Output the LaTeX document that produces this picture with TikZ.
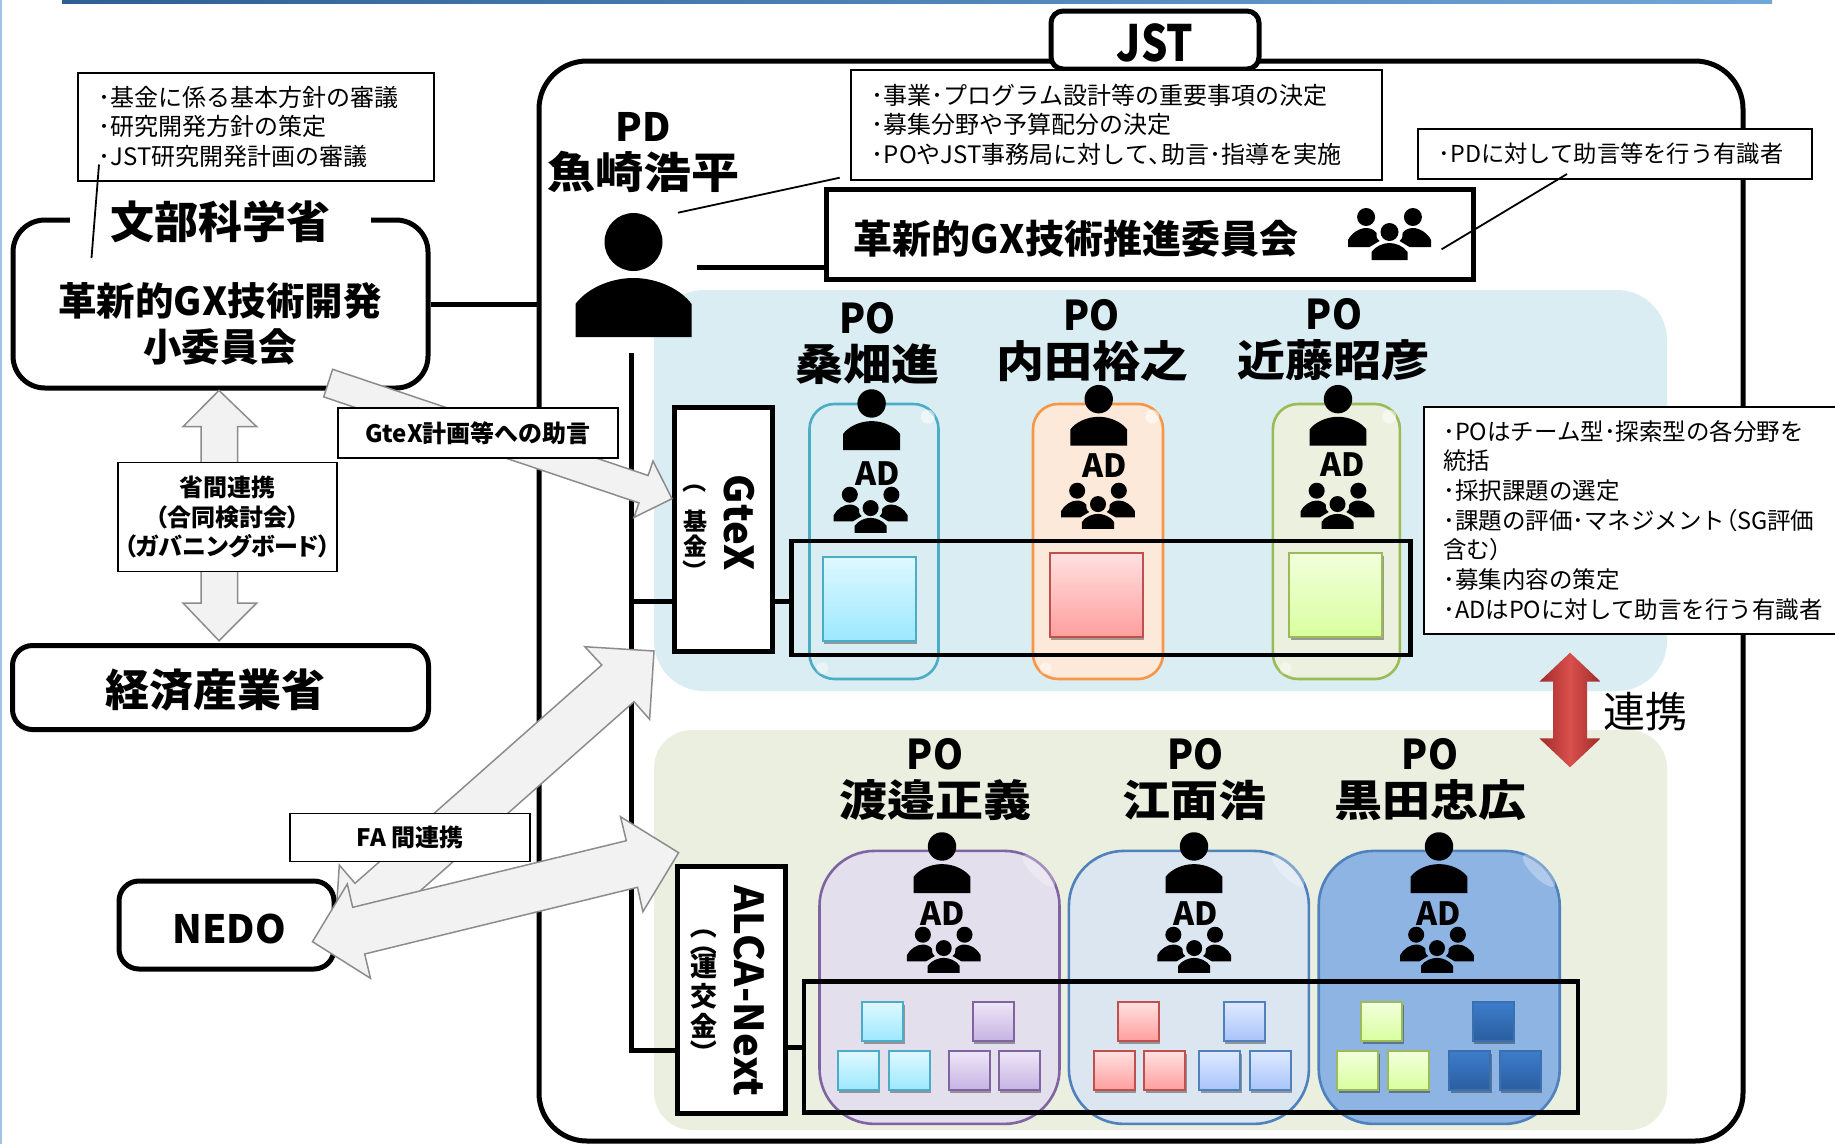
\documentclass[tikz,border=0pt]{standalone}
\usepackage{graphicx}
\usepackage{fontspec}
\setmainfont{Noto Sans CJK JP}
\newfontfamily\paltfont[RawFeature={+palt}]{Noto Sans CJK JP}
\usetikzlibrary{shadows}
\definecolor{panelblue}{HTML}{DAEDF3}
\definecolor{panelbeige}{HTML}{EAEFDF}
\definecolor{arrowgray}{HTML}{F2F2F2}
\definecolor{arrowline}{HTML}{8C8C8C}
\definecolor{redmid}{HTML}{D9504C}
\definecolor{reddark}{HTML}{A02B2B}
\definecolor{stripedark}{HTML}{2F5F93}
\definecolor{stripelight}{HTML}{6FA8D8}
\definecolor{edgeblue}{HTML}{9DC3E6}
\definecolor{cyanTop}{HTML}{DFF8FF}
\definecolor{cyanBot}{HTML}{9CE8FF}
\definecolor{cyanLine}{HTML}{4BACC6}
\definecolor{redTop}{HTML}{FFE0E0}
\definecolor{redBot}{HTML}{FF9E9E}
\definecolor{redLine}{HTML}{C0504D}
\definecolor{limeTop}{HTML}{F2FFDD}
\definecolor{limeBot}{HTML}{D9FF9E}
\definecolor{limeLine}{HTML}{9BBB59}
\definecolor{violetTop}{HTML}{EDE6F7}
\definecolor{violetBot}{HTML}{C6B3E3}
\definecolor{violetLine}{HTML}{8064A2}
\definecolor{skyTop}{HTML}{DFE9FF}
\definecolor{skyBot}{HTML}{A8C4FA}
\definecolor{skyLine}{HTML}{4F81BD}
\definecolor{navyTop}{HTML}{3D7CCB}
\definecolor{navyBot}{HTML}{2A5E9F}
\definecolor{navyLine}{HTML}{3A6FB0}
\definecolor{capblue}{HTML}{DAEDF3}
\definecolor{caporange}{HTML}{FDE9D9}
\definecolor{capgreen}{HTML}{EBF1DE}
\definecolor{capviolet}{HTML}{E4DFEC}
\definecolor{capsky}{HTML}{DCE6F1}
\definecolor{capnavy}{HTML}{8DB4E2}
\definecolor{caporangeline}{HTML}{F79646}
\newcommand{\vparen}[1]{\rotatebox[origin=c]{-90}{#1}}
\tikzset{
    rulebox/.style={draw, line width=5pt, fill=white, inner sep=0pt},
    roundbox/.style={rulebox, rounded corners=#1},
    notebox/.style={draw, line width=1.6pt, fill=white, inner sep=0pt, align=left,
        anchor=north west, font=\fontsize{24}{29.8}\selectfont},
    tagbox/.style={draw, line width=1.6pt, fill=white, inner sep=0pt, align=center,
        font=\bfseries\fontsize{24}{29.5}\selectfont},
    blockarrow/.style={draw=arrowline, fill=arrowgray, line width=1.5pt, line join=miter},
    wire/.style={line width=5pt},
    thinwire/.style={line width=1.8pt},
    titletext/.style={font=\bfseries\fontsize{48}{50}\selectfont, yscale=.9, inner sep=0pt, align=center},
    potext/.style={font=\bfseries\fontsize{41}{41}\selectfont, xscale=.93, inner sep=0pt},
    adtext/.style={font=\bfseries\fontsize{32}{32}\selectfont, inner sep=0pt},
    capsule/.style={line width=2.6pt, draw=#1Line, inner sep=0pt},
    cell/.style={draw=#1Line, line width=2pt, top color=#1Top, bottom color=#1Bot, inner sep=0pt,
        drop shadow={shadow xshift=1.5pt, shadow yshift=-3pt, opacity=.35, fill=black}},
    bigcell/.style={cell=#1, minimum width=93pt, minimum height=84pt},
    minicell/.style={cell=#1, minimum width=41pt, minimum height=39pt},
    rowframe/.style={draw, line width=4.6pt, inner sep=0pt, line join=miter},
    personicon/.pic={
        \fill (0,-95) circle [radius=29];
        \fill (-58,0) -- (-58,-33) .. controls (-48,-47) and (-25,-59) .. (0,-59)
            .. controls (25,-59) and (48,-47) .. (58,-33) -- (58,0) -- cycle;
    },
    groupicon/.pic={
        \fill (-23.4,9) circle [radius=9];
        \fill (23.4,9) circle [radius=9];
        \fill (0,24) circle [radius=9];
        \fill (-41.5,39) -- (-41.5,32) .. controls (-38,25) and (-30,20) .. (-23.4,20)
            .. controls (-19,20) and (-15,22) .. (-13,25) .. controls (-13,30) .. (-10,33) -- (-20,39) -- cycle;
        \fill (41.5,39) -- (41.5,32) .. controls (38,25) and (30,20) .. (23.4,20)
            .. controls (19,20) and (15,22) .. (13,25) .. controls (13,30) .. (10,33) -- (20,39) -- cycle;
        \fill (-18,52) -- (-18,44) .. controls (-14,38) and (-6,35) .. (0,35)
            .. controls (6,35) and (14,38) .. (18,44) -- (18,52) -- cycle;
    },
}
\begin{document}
\begin{tikzpicture}[x=1pt, y=-1pt]
    \useasboundingbox (0,0) rectangle (1835,1144);
    \fill[left color=stripedark, right color=stripelight] (62,0) rectangle (1772,3);
    \fill[edgeblue] (0,0) rectangle (1.5,1144);

    \node[roundbox=48pt, minimum width=1204pt, minimum height=1080pt] (jst) at (1141,601) {};
    \node[roundbox=12pt, minimum width=208pt, minimum height=58pt] (jsttag) at (1155,40) {};
    \node[inner sep=0pt, font=\bfseries\fontsize{50}{50}\selectfont, xscale=.83] (jstname) at (1155,43) {JST};

    \fill[panelblue, rounded corners=50pt] (654,290) rectangle (1667,691);
    \fill[panelbeige, rounded corners=38pt] (654,730) rectangle (1667,1130);

    \node[roundbox=32pt, minimum width=415pt, minimum height=168pt] (mext) at (220.5,304) {};
    \node[fill=white, minimum width=301pt, minimum height=46pt, inner sep=0pt, font=\bfseries\fontsize{44}{44}\selectfont] (mextname) at (220,222) {文部科学省};
    \node[inner sep=0pt, align=center, font=\bfseries\fontsize{38.5}{46}\selectfont] (mextsub) at (220,324) {革新的GX技術開発\\小委員会};
    \node[roundbox=20pt, minimum width=416pt, minimum height=84pt] (meti) at (220.5,687.5) {};
    \node[inner sep=0pt, font=\bfseries\fontsize{44}{44}\selectfont] (metiname) at (215.7,690) {経済産業省};

    \draw[wire] (mext) -- (mext -| jst.west);

    \node[notebox, minimum width=356pt, minimum height=108pt, text width=314pt, inner xsep=21pt] (mextnote) at (77,72)
        {･基金に係る基本方針の審議\\･研究開発方針の策定\\･JST研究開発計画の審議};
    \coordinate (mextnotefoot) at (99,164.5);
    \coordinate (mextfoot) at (91.5,258);
    \draw[thinwire] (mextnotefoot) -- (mextfoot);

    \node[notebox, minimum width=531pt, minimum height=110pt, text width=489pt, inner xsep=21pt] (pdnote) at (850,69)
        {･事業･プログラム設計等の重要事項の決定\\･募集分野や予算配分の決定\\･POやJST事務局に対して{\paltfont 、}助言･指導を実施};
    \node[notebox, minimum width=394pt, minimum height=50pt, text width=352pt, inner xsep=21pt, font=\fontsize{23.3}{29.5}\selectfont] (boardnote) at (1417,128)
        {･PDに対して助言等を行う有識者};

    \node[rulebox, minimum width=647pt, minimum height=90pt] (board) at (1149.5,234) {};
    \node[inner sep=0pt, font=\bfseries\fontsize{39}{39}\selectfont] (boardname) at (1076,239) {革新的GX技術推進委員会};
    \pic at (1389.5,208) {groupicon};
    \coordinate (pdlink) at (678,212.7);
    \coordinate (pdnotelink) at (839.7,177.7);
    \draw[thinwire] (pdlink) -- (pdnotelink);
    \coordinate (boardlink) at (1441.6,249.3);
    \coordinate (boardnotelink) at (1567,174);
    \draw[thinwire] (boardlink) -- (boardnotelink);

    \node[inner sep=0pt, font=\bfseries\fontsize{39}{39}\selectfont] (pdrole) at (643,127) {PD};
    \node[titletext] (pdname) at (643,172) {魚崎浩平};
    \pic at (633.5,337) {personicon};

    \coordinate (pdneck) at (697,267);
    \draw[wire] (pdneck) -- (pdneck -| board.west);
    \coordinate (trunktop) at (631,353);
    \coordinate (trunkend) at (631,1050);
    \coordinate (gtexjoin) at (631,601.7);

    \node[capsule=cyan, fill=capblue, rounded corners=25pt, minimum width=129pt, minimum height=275pt] (capA) at (874,541.5) {};
    \node[line width=2.6pt, draw=caporangeline, fill=caporange, rounded corners=25pt, inner sep=0pt, minimum width=130pt, minimum height=275pt] (capB) at (1098,541.5) {};
    \node[capsule=lime, fill=capgreen, rounded corners=25pt, minimum width=127pt, minimum height=275pt] (capC) at (1336.4,541.5) {};
    \node[capsule=violet, fill=capviolet, rounded corners=55pt, minimum width=240pt, minimum height=273pt] (capD) at (939.5,987.4) {};
    \node[capsule=sky, fill=capsky, rounded corners=55pt, minimum width=240pt, minimum height=273pt] (capE) at (1188.9,987.4) {};
    \node[capsule=sky, fill=capnavy, rounded corners=55pt, minimum width=241pt, minimum height=273pt] (capF) at (1439.2,987.4) {};
    \foreach \c in {capA,capB,capC} {
        \fill[white, opacity=.55] ([xshift=-12pt,yshift=-14pt]\c.north east) circle [radius=7];
        \fill[white, opacity=.4] ([xshift=14pt,yshift=12pt]\c.south west) circle [radius=6];
    }
    \foreach \c in {capD,capE,capF}
        \fill[white, opacity=.3] ([xshift=-22pt,yshift=-21pt]\c.north east) ellipse [x radius=22, y radius=7, rotate=-45];

    \node[bigcell=cyan] (cellA) at (869.3,599) {};
    \node[bigcell=red] (cellB) at (1096,595) {};
    \node[bigcell=lime] (cellC) at (1335.5,595) {};
    \foreach \x/\y/\c in {882.8/1021.6/cyan, 993/1021.6/violet, 858.3/1070.8/cyan, 909.2/1070.8/cyan,
        969.2/1070.8/violet, 1019.4/1070.8/violet, 1138.2/1021.6/red, 1244.1/1021.6/sky,
        1114/1070.8/red, 1164.8/1070.8/red, 1219.5/1070.8/sky, 1270/1070.8/sky,
        1381.9/1021.6/lime, 1493.3/1021.6/navy, 1357.8/1070.8/lime, 1408.2/1070.8/lime,
        1469.5/1070.8/navy, 1520.3/1070.8/navy}
        \node[minicell=\c] (mini\x) at (\x,\y) {};

    \node[rowframe, minimum width=619pt, minimum height=114pt] (gtexrow) at (1101,598) {};
    \node[rowframe, minimum width=774pt, minimum height=131pt] (alcarow) at (1191,1047) {};

    \foreach \n/\px/\py/\who/\wx/\wy/\fx/\fy/\ax/\ay/\gx/\gy in {
        A/867.5/318.7/桑畑進/867.5/364/871.6/450/877.8/473.7/870.6/486.7,
        B/1091.5/315/内田裕之/1092/361/1098.7/445.7/1104.3/466/1098/482.7,
        C/1334/314/近藤昭彦/1333/360/1338/445.7/1342.6/465/1337.5/482.7,
        D/935/754.7/渡邉正義/935/800.5/942/893/943/913.7/943.7/926.7,
        E/1195.4/754.7/江面浩/1194/800.5/1194/893/1195.4/913.7/1194.2/926.7,
        F/1430/754.7/黒田忠広/1430/800.5/1439/893/1439/913.7/1437/926.7}
    {
        \node[potext] (po\n) at (\px,\py) {PO};
        \node[titletext] (name\n) at (\wx,\wy) {\who};
        \pic[scale=.49] at (\fx,\fy) {personicon};
        \node[adtext] (ad\n) at (\ax,\ay) {AD};
        \pic[scale=.89] at (\gx,\gy) {groupicon};
    }

    \node[rulebox, minimum width=98pt, minimum height=244pt] (gtex) at (723.5,529.5) {};
    \node[rotate=-90, inner sep=0pt, font=\bfseries\fontsize{40}{40}\selectfont] (gtexname) at (739.5,523) {GteX};
    \node[inner sep=0pt, align=center, font=\bfseries\fontsize{24}{25}\selectfont] (gtexfund) at (695,526) {\vparen{（}\\[15pt]基\\金\\\vparen{）}};
    \node[rulebox, minimum width=108pt, minimum height=247pt] (alca) at (731,989.5) {};
    \node[rotate=-90, inner sep=0pt, font=\bfseries\fontsize{40}{40}\selectfont] (alcaname) at (749,991) {ALCA-Next};
    \node[inner sep=0pt, font=\bfseries\fontsize{27}{30}\selectfont] (alcaparen) at (704,926) {\vparen{（}};
    \node[inner sep=0pt, font=\bfseries\fontsize{27}{30}\selectfont] (alcaparentwo) at (704,943) {\vparen{（}};
    \node[inner sep=0pt, align=center, font=\bfseries\fontsize{27}{30}\selectfont] (alcafund) at (704,1010) {運\\交\\金\\[-3pt]\vparen{）}};

    \draw[wire] (trunktop) -- (trunkend) -- (trunkend -| alca.west);
    \draw[wire] (gtexjoin) -- (gtexjoin -| gtex.west);
    \draw[wire] (gtex.east |- gtexjoin) -- (gtexjoin -| gtexrow.west);
    \draw[wire] (alca.east |- alcarow) -- (alcarow.west);

    \draw[blockarrow] (219,390.4) -- (256.7,426.7) -- (237.5,426.7) -- (237.5,603) -- (256.7,603) -- (219,640.7)
        -- (183,603) -- (201,603) -- (201,426.7) -- (183,426.7) -- cycle;
    \node[tagbox, minimum width=219pt, minimum height=109pt, text depth=2pt, font=\paltfont\bfseries\fontsize{24}{29.5}\selectfont] (ministries) at (227.5,517) {省間連携\\（合同検討会）\\（ガバニングボード）};

    \draw[blockarrow] (332.6,369.3) -- (648.1,475.5) -- (653,461) -- (672,498.7) -- (634,517.4) -- (638.9,502.9) -- (323.7,396.9) -- cycle;
    \node[tagbox, minimum width=280pt, minimum height=50pt] (advice) at (478,433) {GteX計画等への助言};

    \draw[blockarrow] (654,651) -- (649.6,719.3) -- (634,701.7) -- (387.4,919.8) -- (404.1,937.6) -- (334.9,933.3)
        -- (339.3,865) -- (355,883.3) -- (601.8,665) -- (584.8,646.7) -- cycle;
    \node[roundbox=20pt, minimum width=215pt, minimum height=88pt] (nedo) at (226.5,925) {};
    \node[inner sep=0pt, font=\bfseries\fontsize{39}{39}\selectfont] (nedoname) at (229,929) {NEDO};
    \draw[blockarrow] (678.6,852.7) -- (642.9,911.7) -- (637.5,887.3) -- (364.7,954) -- (370.5,978.3) -- (312.5,941.7)
        -- (347.3,884) -- (352.7,907.3) -- (626.3,840.7) -- (620.5,816.7) -- cycle;
    \node[tagbox, minimum width=240pt, minimum height=48pt] (faband) at (410,837.5) {FA 間連携};

    \node[notebox, minimum width=415pt, minimum height=227pt, text width=376pt, inner xsep=19.5pt, font=\fontsize{23.5}{29.7}\selectfont] (ponote) at (1423,406)
        {･POはチーム型･探索型の各分野を\\統括\\･採択課題の選定\\･課題の評価･マネジメント{\paltfont （}SG評価\\含む{\paltfont ）}\\･募集内容の策定\\･ADはPOに対して助言を行う有識者};

    \path[left color=reddark, right color=reddark, middle color=redmid] (1570,652.7) -- (1600.7,681.7) -- (1587,681.7) -- (1587,738.3)
        -- (1600.7,738.3) -- (1570,767.3) -- (1539.3,738.3) -- (1553,738.3) -- (1553,681.7) -- (1539.3,681.7) -- cycle;
    \node[inner sep=0pt, font=\fontsize{42}{42}\selectfont] (linkage) at (1645,712) {連携};
\end{tikzpicture}
\end{document}
